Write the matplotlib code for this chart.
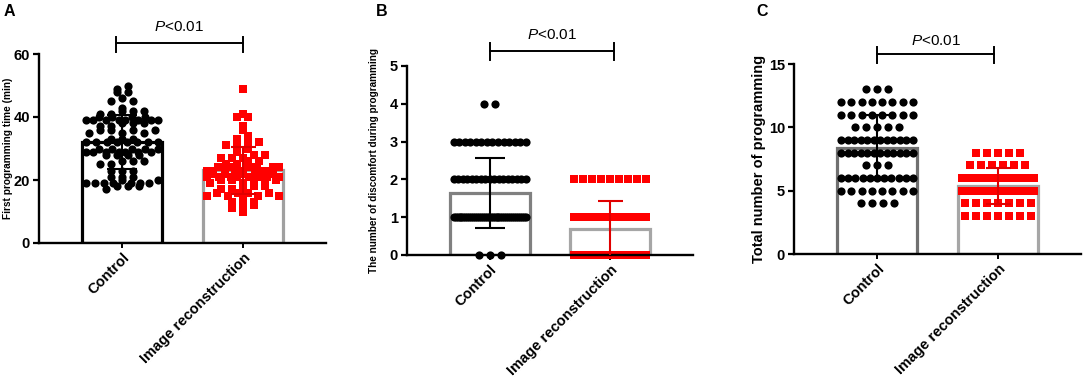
import numpy as np
import matplotlib
matplotlib.use("Agg")
import matplotlib.pyplot as plt
from matplotlib.transforms import blended_transform_factory

plt.rcParams['font.family'] = ['Liberation Sans', 'DejaVu Sans']
plt.rcParams['mathtext.fontset'] = 'custom'
plt.rcParams['mathtext.it'] = 'Liberation Sans:italic'
plt.rcParams['mathtext.rm'] = 'Liberation Sans'

# ---------------- data ----------------
groups = ["Control", "Image reconstruction"]

# Panel A: first programming time (min) -- values and how many patients had each
a_ctrl_vals = [50, 49, 48, 46, 45, 43, 42, 41, 40, 39, 38, 37, 36, 35, 33, 32, 30, 29, 28, 26, 25, 23, 21, 20, 19, 18, 17]
a_ctrl_cnts = [1, 1, 2, 1, 2, 1, 3, 2, 4, 8, 3, 2, 4, 3, 3, 8, 5, 7, 4, 3, 2, 3, 3, 2, 7, 3, 1]
a_img_vals = [49, 41, 40, 37, 36, 34, 33, 32, 31, 30, 29, 28, 27, 26, 25, 24, 23, 22, 21, 20, 19, 18, 17, 16, 15, 14, 13, 12, 11, 10]
a_img_cnts = [1, 1, 2, 1, 1, 1, 1, 2, 2, 1, 1, 2, 3, 2, 2, 8, 6, 5, 8, 4, 3, 3, 2, 4, 4, 1, 2, 2, 1, 1]

# Panel B: number of discomfort during programming
b_ctrl_vals = [4, 3, 2, 1, 0]
b_ctrl_cnts = [2, 14, 17, 38, 3]
b_img_vals = [2, 1, 0]
b_img_cnts = [9, 22, 27]

# Panel C: total number of programming
c_ctrl_vals = [13, 12, 11, 10, 9, 8, 7, 6, 5, 4]
c_ctrl_cnts = [3, 8, 8, 5, 12, 12, 3, 11, 8, 4]
c_img_vals = [8, 7, 6, 5, 4, 3]
c_img_cnts = [5, 6, 15, 18, 7, 7]

p_text = r"$\mathit{P}$<0.01"

# ---------------- helpers ----------------
W, H = 1084, 380
fig = plt.figure(figsize=(W / 100, H / 100), dpi=100)


def px_axes(left, right, bottom, top):
    return fig.add_axes([left / W, 1 - bottom / H, (right - left) / W, (bottom - top) / H])


def row_layout(vals, binw, v0, px_per_unit, step_px=11.0, maxspan_px=72):
    vals = np.asarray(vals, float)
    bins = np.floor((vals - v0) / binw + 1e-9).astype(int)
    xs = np.zeros_like(vals)
    for b in np.unique(bins):
        idx = np.where(bins == b)[0]
        n = len(idx)
        if n == 1:
            continue
        idx = idx[np.argsort(vals[idx], kind="stable")]
        step = min(step_px, maxspan_px / (n - 1))
        offs = (np.arange(n) - (n - 1) / 2) * step / px_per_unit
        perm = np.array([(i * 5) % n for i in range(n)]) if n % 5 else np.arange(n)
        xs[idx] = offs[perm]
    return xs


def panel(ax, ctrl, img, ymax, yticks, binw, v0, edge_colors, ylab, ylab_size, ylab_x,
          letter, letter_x, brk, axis_px):
    left, right, bottom, top = axis_px
    ax.set_xlim(-0.686, 1.686)
    ax.set_ylim(0, ymax)
    px_x = (right - left) / 2.372
    data = [ctrl, img]
    means = [np.mean(d) for d in data]
    sds = [np.std(d, ddof=1) for d in data]
    ax.bar([0, 1], means, width=0.66, color="white", edgecolor=edge_colors,
           linewidth=2.3, zorder=1)
    # points
    xs0 = row_layout(ctrl, binw, v0, px_x) + 0
    xs1 = row_layout(img, binw, v0, px_x) + 1
    ax.plot(xs0, ctrl, "o", color="black", ms=5.9, mew=0, zorder=2, clip_on=False)
    ax.plot(xs1, img, "s", color="#ff0000", ms=5.6, mew=0, zorder=2, clip_on=False)
    ax.errorbar([0], [means[0]], yerr=[sds[0]], fmt="none", ecolor="black",
                elinewidth=1.5, capsize=11, capthick=1.5, zorder=3)
    ax.errorbar([1], [means[1]], yerr=[sds[1]], fmt="none", ecolor="#e00000",
                elinewidth=1.5, capsize=9, capthick=1.5, zorder=3)
    # axes styling
    for s in ["top", "right"]:
        ax.spines[s].set_visible(False)
    for s in ["left", "bottom"]:
        ax.spines[s].set_linewidth(1.7)
    ax.set_yticks(yticks)
    ax.set_yticklabels([str(t) for t in yticks], fontsize=10.5, fontweight="bold")
    ax.tick_params(axis="y", length=4.5, width=1.6, pad=2)
    ax.tick_params(axis="x", length=3.5, width=1.4, pad=2)
    ax.set_xticks([0, 1])
    ax.set_xticklabels(groups, rotation=45, ha="right", rotation_mode="anchor",
                       fontsize=10.5, fontweight="bold")
    # bracket
    bx0, bx1, by, bt0, bt1, ty = brk
    tr = blended_transform_factory(ax.transData, fig.transFigure)
    fy = lambda p: 1 - p / H
    ax.plot([bx0, bx1], [fy(by), fy(by)], color="black", lw=1.4, transform=tr, clip_on=False)
    for bx in (bx0, bx1):
        ax.plot([bx, bx], [fy(bt0), fy(bt1)], color="black", lw=1.4, transform=tr, clip_on=False)
    ax.text((bx0 + bx1) / 2, fy(ty), p_text, transform=tr, ha="center", va="center", fontsize=11)
    # labels
    fig.text(ylab_x / W, 1 - (top + bottom) / 2 / H, ylab, rotation=90, ha="center",
             va="center", fontsize=ylab_size, fontweight="bold")
    fig.text(letter_x / W, 1 - 4 / H, letter, ha="left", va="top", fontsize=11.5,
             fontweight="bold")


ctrlA = np.repeat(a_ctrl_vals, a_ctrl_cnts)
imgA = np.repeat(a_img_vals, a_img_cnts)
ctrlB = np.repeat(b_ctrl_vals, b_ctrl_cnts)
imgB = np.repeat(b_img_vals, b_img_cnts)
ctrlC = np.repeat(c_ctrl_vals, c_ctrl_cnts)
imgC = np.repeat(c_img_vals, c_img_cnts)

pxA = (39, 326, 243, 54)
axA = px_axes(*pxA)
panel(axA, ctrlA, imgA, 60, [0, 20, 40, 60], 2, 1, ["black", "#a0a0a0"],
      "First programming time (min)", 7.3, 8, "A", 4, (-0.05, 1.0, 43, 37, 52, 27), pxA)

pxB = (407, 693, 255, 66)
axB = px_axes(*pxB)
panel(axB, ctrlB, imgB, 5, [0, 1, 2, 3, 4, 5], 1, -0.5, ["#808080", "#a6a6a6"],
      "The number of discomfort during programming", 7.2, 374, "B", 376, (0.0, 1.03, 51, 43, 60, 35), pxB)

pxC = (794, 1081, 254, 64)
axC = px_axes(*pxC)
panel(axC, ctrlC, imgC, 15, [0, 5, 10, 15], 1, -0.5, ["#707070", "#a6a6a6"],
      "Total number of programming", 10.5, 759, "C", 756, (0.0, 0.97, 54, 47, 63, 41), pxC)

fig.savefig("out.png", dpi=100)
